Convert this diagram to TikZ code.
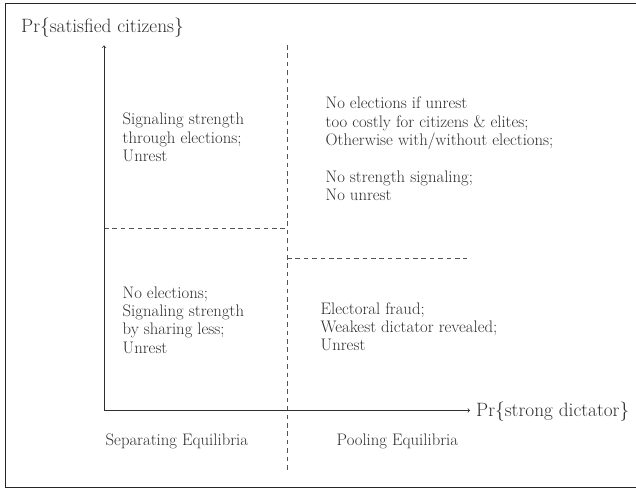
\documentclass[tikz,border=0pt]{standalone}
\usepackage{fontspec}
\definecolor{ink}{HTML}{2E2E2E}
\definecolor{dashc}{HTML}{555555}
\tikzset{
  body/.style={anchor=base west, inner sep=0pt, align=left, text=ink,
    font=\fontsize{16.7}{18.4}\selectfont},
  axislabel/.style={inner sep=0pt, text=ink, font=\fontsize{19.3}{22}\selectfont},
  axis/.style={draw=ink, line width=0.7pt, -{to[scale=1.3]}},
  divider/.style={draw=dashc, line width=0.8pt, dash pattern=on 4.6pt off 3.8pt},
}
\begin{document}
\begin{tikzpicture}[x=1pt,y=-1pt]
\useasboundingbox (0,0) rectangle (636,489);
% frame
\draw[line width=1.1pt, black!85] (640,3.5) -- (5.3,3.5) -- (5.3,487.6) -- (640,487.6);
% coordinates
\coordinate (O) at (104,410.5);
\coordinate (ytip) at (104,45.5);
\coordinate (xtip) at (470,410.5);
\coordinate (vtop) at (287,45);
\coordinate (vbot) at (287,471);
\coordinate (hl1) at (104,228.3);
\coordinate (hl2) at (287,228.3);
\coordinate (hr1) at (287,258.7);
\coordinate (hr2) at (467,258.7);
% dividers
\draw[divider] (vtop) -- (vbot);
\draw[divider] (hl1) -- (hl2);
\draw[divider] (hr1) -- (hr2);
% axes
\draw[axis] (O) -- (ytip);
\draw[axis] (O) -- (xtip);
\node[axislabel, anchor=base west] (ylab) at (21,32.5) {Pr\textbraceleft satisfied citizens\textbraceright};
\node[axislabel, anchor=base west] (xlab) at (476,416) {Pr\textbraceleft strong dictator\textbraceright};
% region texts (base anchor = baseline of last line)
\node[body] (A) at (122.5,161.8) {Signaling strength\\through elections;\\Unrest};
\node[body] (B) at (325.5,200.8) {No elections if unrest\\too costly for citizens \& elites;\\Otherwise with/without elections;\\[18.4pt]No strength signaling;\\No unrest};
\node[body] (C) at (122.5,353.2) {No elections;\\Signaling strength\\by sharing less;\\Unrest};
\node[body] (D) at (320.5,350.8) {Electoral fraud;\\Weakest dictator revealed;\\Unrest};
\node[body] (sep) at (105.5,445) {Separating Equilibria};
\node[body] (pool) at (336.5,445) {Pooling Equilibria};
\end{tikzpicture}
\end{document}
